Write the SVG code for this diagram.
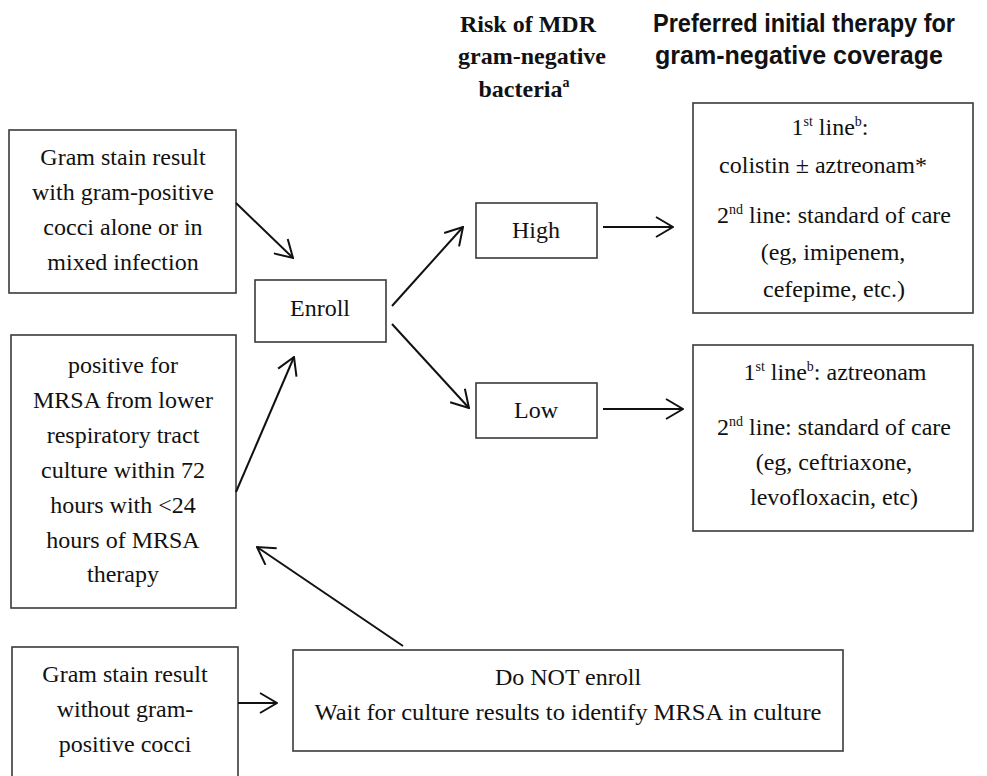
<svg xmlns="http://www.w3.org/2000/svg" width="987" height="776" viewBox="0 0 987 776">
<style>
.box{fill:#fff;stroke:#3a3a3a;stroke-width:1.6}
.t{font-family:"Liberation Serif","Times New Roman",serif;font-size:24px;fill:#111;text-anchor:middle}
.hb{font-family:"Liberation Serif","Times New Roman",serif;font-size:24px;font-weight:bold;fill:#111;text-anchor:middle}
.hs{font-family:"Liberation Sans",Arial,sans-serif;font-size:25px;font-weight:bold;fill:#111;text-anchor:middle}
.sup{font-size:14px}
.c{stroke:#111;stroke-width:2;fill:none;marker-end:url(#ah)}
</style>
<defs>
<marker id="ah" viewBox="0 0 19 22" refX="18" refY="11" markerWidth="19" markerHeight="22" markerUnits="userSpaceOnUse" orient="auto">
<path d="M1,1 L18,11 L1,21" fill="none" stroke="#111" stroke-width="2"/>
</marker>
</defs>
<rect width="987" height="776" fill="#fff"/>
<g id="headers">
<text class="hb" x="528" y="32">Risk of MDR</text>
<text class="hb" x="532" y="64">gram-negative</text>
<text class="hb" x="524" y="97">bacteria<tspan class="sup" dy="-10">a</tspan></text>
<text class="hs" x="804" y="32" textLength="302" lengthAdjust="spacingAndGlyphs">Preferred initial therapy for</text>
<text class="hs" x="799" y="64" textLength="288" lengthAdjust="spacingAndGlyphs">gram-negative coverage</text>
</g>
<g id="gram-positive">
<rect class="box" x="9" y="130" width="227" height="163"/>
<text class="t" x="123" y="165">Gram stain result</text>
<text class="t" x="123" y="200">with gram-positive</text>
<text class="t" x="123" y="235">cocci alone or in</text>
<text class="t" x="123" y="270">mixed infection</text>
</g>
<g id="mrsa-positive">
<rect class="box" x="11" y="335" width="225" height="273"/>
<text class="t" x="123" y="373">positive for</text>
<text class="t" x="123" y="408">MRSA from lower</text>
<text class="t" x="123" y="443">respiratory tract</text>
<text class="t" x="123" y="478">culture within 72</text>
<text class="t" x="123" y="513">hours with &lt;24</text>
<text class="t" x="123" y="548">hours of MRSA</text>
<text class="t" x="123" y="582">therapy</text>
</g>
<g id="no-gram-positive">
<rect class="box" x="12" y="647" width="226" height="160"/>
<text class="t" x="125" y="682">Gram stain result</text>
<text class="t" x="125" y="717">without gram-</text>
<text class="t" x="125" y="752">positive cocci</text>
</g>
<g id="enroll">
<rect class="box" x="255" y="280" width="131" height="62"/>
<text class="t" x="320" y="316">Enroll</text>
</g>
<g id="high">
<rect class="box" x="476" y="203" width="121" height="55"/>
<text class="t" x="536" y="238">High</text>
</g>
<g id="low">
<rect class="box" x="476" y="383" width="121" height="55"/>
<text class="t" x="536" y="418">Low</text>
</g>
<g id="high-therapy">
<rect class="box" x="693" y="103" width="280" height="210"/>
<text class="t" x="830" y="135">1<tspan class="sup" dy="-9">st</tspan><tspan dy="9"> line</tspan><tspan class="sup" dy="-9">b</tspan><tspan dy="9">:</tspan></text>
<text class="t" x="823" y="173">colistin ± aztreonam*</text>
<text class="t" x="834" y="223">2<tspan class="sup" dy="-9">nd</tspan><tspan dy="9"> line: standard of care</tspan></text>
<text class="t" x="833" y="260">(eg, imipenem,</text>
<text class="t" x="834" y="297">cefepime, etc.)</text>
</g>
<g id="low-therapy">
<rect class="box" x="693" y="345" width="280" height="186"/>
<text class="t" x="835" y="380">1<tspan class="sup" dy="-9">st</tspan><tspan dy="9"> line</tspan><tspan class="sup" dy="-9">b</tspan><tspan dy="9">: aztreonam</tspan></text>
<text class="t" x="834" y="435">2<tspan class="sup" dy="-9">nd</tspan><tspan dy="9"> line: standard of care</tspan></text>
<text class="t" x="834" y="470">(eg, ceftriaxone,</text>
<text class="t" x="834" y="505">levofloxacin, etc)</text>
</g>
<g id="do-not-enroll">
<rect class="box" x="293" y="650" width="550" height="101"/>
<text class="t" x="568" y="685">Do NOT enroll</text>
<text class="t" x="568" y="720" textLength="507" lengthAdjust="spacingAndGlyphs">Wait for culture results to identify MRSA in culture</text>
</g>
<g id="connectors">
<line class="c" x1="236" y1="203" x2="293" y2="258"/>
<line class="c" x1="236" y1="492" x2="294" y2="357"/>
<line class="c" x1="392" y1="306" x2="463" y2="227"/>
<line class="c" x1="392" y1="324" x2="469" y2="408"/>
<line class="c" x1="603" y1="227" x2="673" y2="227"/>
<line class="c" x1="603" y1="409" x2="683" y2="409"/>
<line class="c" x1="403" y1="646" x2="257" y2="547"/>
<line class="c" x1="238" y1="703" x2="277" y2="703"/>
</g>
</svg>
